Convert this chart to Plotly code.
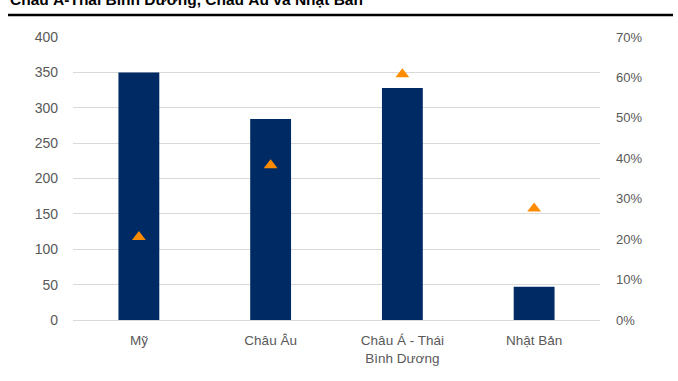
import plotly.graph_objects as go

categories = ["Mỹ", "Châu Âu", "Châu Á - Thái<br>Bình Dương", "Nhật Bản"]
bar_values = [350, 284, 328, 47]
pct_values = [0.205, 0.383, 0.608, 0.276]
left_ticks = [0, 50, 100, 150, 200, 250, 300, 350, 400]
right_ticks = [0, 0.1, 0.2, 0.3, 0.4, 0.5, 0.6, 0.7]
title_text = "Châu Á-Thái Bình Dương, Châu Âu và Nhật Bản"

W, H = 678, 381
L, R, T, B = 73, 78, 37, 61
ph = H - T - B
pw = W - L - R

def py(px):
    return (H - B - px) / ph

def pxx(px):
    return (px - L) / pw

fig = go.Figure()
fig.add_trace(go.Bar(x=categories, y=bar_values, marker=dict(color="#002A64", line=dict(width=0)),
                     width=0.31, yaxis="y", showlegend=False))
fig.add_trace(go.Scatter(x=categories, y=pct_values, mode="markers", yaxis="y2",
                         marker=dict(symbol="triangle-up", size=12, color="#FF8C00", line=dict(width=0)),
                         showlegend=False))

font_family = "Liberation Sans, Arial, sans-serif"
fig.update_layout(
    width=W, height=H,
    margin=dict(l=L, r=R, t=T, b=B, pad=0),
    paper_bgcolor="white", plot_bgcolor="white",
    font=dict(family=font_family, size=13, color="#595959"),
    xaxis=dict(showgrid=False, showline=True, linecolor="#d9d9d9", linewidth=1,
               ticks="", ticklabelstandoff=8,
               tickfont=dict(size=13.5, color="#595959"), fixedrange=True),
    yaxis=dict(range=[0, 400], tickvals=left_ticks, showgrid=True, gridcolor="#d9d9d9",
               gridwidth=1, zeroline=False, showline=False, ticks="",
               ticklabelstandoff=14, tickfont=dict(size=14, color="#595959")),
    yaxis2=dict(range=[0, 0.7], tickvals=right_ticks, tickformat=".0%", overlaying="y",
                side="right", showgrid=False, zeroline=False, showline=False, ticks="",
                ticklabelstandoff=15, tickfont=dict(size=13, color="#595959")),
    bargap=0.69,
)

fig.add_annotation(text="<b>" + title_text + "</b>", xref="paper", yref="paper",
                   x=pxx(8), y=py(10), xanchor="left", yanchor="bottom", showarrow=False,
                   font=dict(family=font_family, size=15.5, color="#000000"))
fig.add_shape(type="line", xref="paper", yref="paper", x0=pxx(8), x1=pxx(673),
              y0=py(15), y1=py(15), line=dict(color="#000000", width=2.5))

fig.write_html("out.html", config={"displayModeBar": False},
               post_script="document.body.style.margin='0';")
